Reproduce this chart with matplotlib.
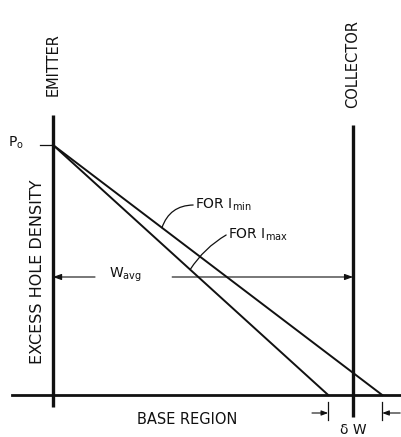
import matplotlib
matplotlib.use("Agg")
import matplotlib.pyplot as plt

# ---- data (base width normalised to W = 1, density normalised to P0 = 1) ----
emitter_x = 0.0
collector_x = 1.0
p0 = 1.0
line_names = ["FOR I$_{\\mathregular{min}}$", "FOR I$_{\\mathregular{max}}$"]
line_intercepts = [1.097, 0.917]          # where each density line reaches zero
label_xy = [(0.473, 0.760), (0.583, 0.640)]
leader_x = [0.363, 0.457]                 # point on each line where leader touches
leader_rad = [0.35, 0.12]
w_avg_level = 0.472
axis_labels = ["EXCESS HOLE DENSITY", "BASE REGION"]
electrode_labels = ["EMITTER", "COLLECTOR"]

fig = plt.figure(figsize=(4.02, 4.37), dpi=100)
ax = fig.add_axes([0, 0, 1, 1])
ax.set_xlim(-0.1767, 1.163)
ax.set_ylim(-0.168, 1.58)
ax.axis("off")

k = "#111111"
# electrodes
ax.plot([emitter_x, emitter_x], [-0.048, 1.12], color=k, lw=2.4, solid_capstyle="butt")
ax.plot([collector_x, collector_x], [-0.088, 1.08], color=k, lw=2.4, solid_capstyle="butt")
# baseline
ax.plot([-0.137, 1.157], [0, 0], color=k, lw=2.0)
# P0 tick
ax.plot([-0.043, emitter_x], [p0, p0], color=k, lw=0.9)
ax.text(-0.123, p0 + 0.008, "P$_{\\mathregular{o}}$", fontsize=10, ha="center", va="center", color=k)

# density lines
for xe in line_intercepts:
    ax.plot([emitter_x, xe], [p0, 0], color=k, lw=1.4)

# labels with leaders
for name, (lx, ly), xl, xe, rad in zip(line_names, label_xy, leader_x, line_intercepts, leader_rad):
    yl = p0 * (1 - xl / xe)
    ax.annotate("", xy=(xl, yl), xytext=(lx - 0.006, ly),
                arrowprops=dict(arrowstyle="-", color=k, lw=0.9,
                                connectionstyle=f"arc3,rad={rad}", shrinkA=0, shrinkB=0))
    ax.text(lx, ly, name, fontsize=10, ha="left", va="center", color=k)

# W_avg dimension
ax.annotate("", xy=(emitter_x, w_avg_level), xytext=(0.14, w_avg_level),
            arrowprops=dict(arrowstyle="-|>,head_length=0.5,head_width=0.18", color=k, lw=0.8,
                            shrinkA=0, shrinkB=0))
ax.annotate("", xy=(collector_x, w_avg_level), xytext=(0.397, w_avg_level),
            arrowprops=dict(arrowstyle="-|>,head_length=0.5,head_width=0.18", color=k, lw=0.8,
                            shrinkA=0, shrinkB=0))
ax.text(0.24, w_avg_level + 0.01, "W$_{\\mathregular{avg}}$", fontsize=10, ha="center", va="center", color=k)

# delta W dimension
yd = -0.072
for xe, xt in [(line_intercepts[1], 0.863), (line_intercepts[0], 1.157)]:
    ax.plot([xe, xe], [-0.028, -0.1], color=k, lw=0.9)
    ax.annotate("", xy=(xe, yd), xytext=(xt, yd),
                arrowprops=dict(arrowstyle="-|>,head_length=0.4,head_width=0.15", color=k, lw=0.8,
                                shrinkA=0, shrinkB=0))
ax.text(collector_x, -0.142, "δ W", fontsize=10, ha="center", va="center", color=k)

# text labels
ax.text(emitter_x, 1.32, electrode_labels[0], rotation=90, fontsize=10.5, ha="center", va="center", color=k)
ax.text(collector_x, 1.324, electrode_labels[1], rotation=90, fontsize=10.5, ha="center", va="center", color=k)
ax.text(-0.053, 0.492, axis_labels[0], rotation=90, fontsize=11.5, ha="center", va="center", color=k)
ax.text(0.447, -0.1, axis_labels[1], fontsize=10.5, ha="center", va="center", color=k)

fig.savefig("out.png", dpi=100)
